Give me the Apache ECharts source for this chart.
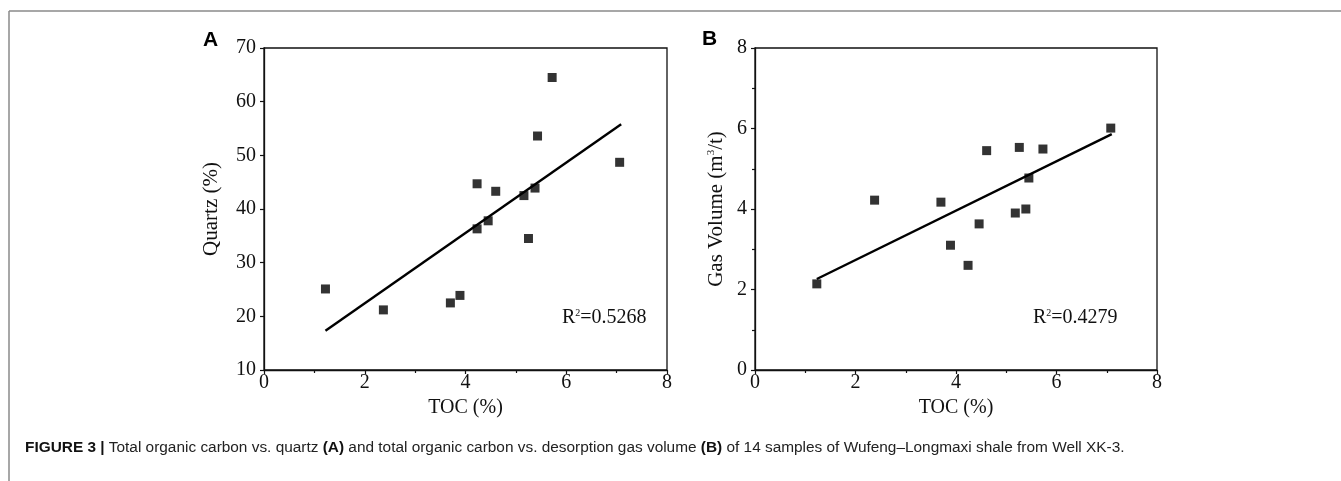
<!DOCTYPE html>
<html>
<head>
<meta charset="utf-8">
<script src="https://cdn.jsdelivr.net/npm/echarts@6/dist/echarts.min.js"></script>
<style>
  html, body { margin: 0; padding: 0; background: #fff; }
  #main { width: 1341px; height: 481px; }
</style>
</head>
<body>
<div id="main"></div>
<script>
// panel A: TOC vs quartz
var tocA = [1.22, 2.37, 3.70, 3.89, 4.23, 4.23, 4.45, 4.60, 5.16, 5.38, 5.25, 5.43, 5.72, 7.06];
var quartz = [25.1, 21.2, 22.5, 23.9, 44.7, 36.3, 37.8, 43.3, 42.5, 43.9, 34.5, 53.6, 64.5, 48.7];
// panel B: TOC vs gas volume
var tocB = [1.23, 2.38, 3.70, 3.89, 4.24, 4.46, 4.61, 5.18, 5.26, 5.39, 5.45, 5.73, 7.08];
var gasVolume = [2.14, 4.22, 4.17, 3.10, 2.60, 3.63, 5.45, 3.90, 5.53, 4.00, 4.77, 5.49, 6.01];
// fitted lines (ends)
var fitA = [[1.22, 17.3], [7.09, 55.8]];
var fitB = [[1.23, 2.26], [7.10, 5.86]];
var xTicks = [0, 2, 4, 6, 8];

var serif = '"Liberation Serif", "Times New Roman", serif';
var sans = '"Liberation Sans", Arial, sans-serif';

function pairs(xs, ys) {
  return xs.map(function (x, i) { return [x, ys[i]]; });
}

function xAxisOf(idx) {
  return {
    type: 'value', gridIndex: idx, min: xTicks[0], max: xTicks[xTicks.length - 1], interval: 2,
    name: 'TOC (%)', nameLocation: 'middle', nameGap: 25,
    nameTextStyle: { fontFamily: serif, fontSize: 20, color: '#111' },
    axisLine: { lineStyle: { color: '#111', width: 1.3 } },
    axisTick: { inside: false, length: 4, lineStyle: { color: '#111', width: 1.2 } },
    minorTick: { show: true, splitNumber: 2, length: 3, lineStyle: { color: '#111', width: 1.2 } },
    axisLabel: { fontFamily: serif, fontSize: 20, color: '#111', margin: 3 },
    splitLine: { show: false }
  };
}

var chart = echarts.init(document.getElementById('main'));

var option = {
  animation: false,
  backgroundColor: '#fff',
  grid: [
    { left: 264, top: 48, width: 403, height: 322, show: true, borderColor: '#111', borderWidth: 1.3, backgroundColor: 'transparent' },
    { left: 755, top: 48, width: 402, height: 322, show: true, borderColor: '#111', borderWidth: 1.3, backgroundColor: 'transparent' }
  ],
  xAxis: [xAxisOf(0), xAxisOf(1)],
  yAxis: [
    {
      type: 'value', gridIndex: 0, min: 10, max: 70, interval: 10,
      name: 'Quartz (%)', nameLocation: 'middle', nameGap: 42,
      nameTextStyle: { fontFamily: serif, fontSize: 21, color: '#111' },
      axisLine: { show: true, lineStyle: { color: '#111', width: 1.3 } },
      axisTick: { show: true, length: 4, lineStyle: { color: '#111', width: 1.2 } },
      axisLabel: { fontFamily: serif, fontSize: 20, color: '#111', margin: 8 },
      splitLine: { show: false }
    },
    {
      type: 'value', gridIndex: 1, min: 0, max: 8, interval: 2,
      name: 'Gas Volume (m{sup|3}/t)', nameLocation: 'middle', nameGap: 28,
      nameTextStyle: {
        fontFamily: serif, fontSize: 21, color: '#111',
        rich: { sup: { fontFamily: serif, fontSize: 11, color: '#111', verticalAlign: 'top', padding: [0, 0, 10, 0] } }
      },
      axisLine: { show: true, lineStyle: { color: '#111', width: 1.3 } },
      axisTick: { show: true, length: 4, lineStyle: { color: '#111', width: 1.2 } },
      minorTick: { show: true, splitNumber: 2, length: 3, lineStyle: { color: '#111', width: 1.2 } },
      axisLabel: { fontFamily: serif, fontSize: 20, color: '#111', margin: 8 },
      splitLine: { show: false }
    }
  ],
  series: [
    {
      type: 'line', xAxisIndex: 0, yAxisIndex: 0, data: fitA, showSymbol: false, silent: true,
      lineStyle: { color: '#000', width: 2.4 }, z: 2
    },
    {
      type: 'scatter', xAxisIndex: 0, yAxisIndex: 0, data: pairs(tocA, quartz),
      symbol: 'rect', symbolSize: 9, itemStyle: { color: '#000' }, z: 3
    },
    {
      type: 'line', xAxisIndex: 1, yAxisIndex: 1, data: fitB, showSymbol: false, silent: true,
      lineStyle: { color: '#000', width: 2.4 }, z: 2
    },
    {
      type: 'scatter', xAxisIndex: 1, yAxisIndex: 1, data: pairs(tocB, gasVolume),
      symbol: 'rect', symbolSize: 9, itemStyle: { color: '#000' }, z: 3
    }
  ],
  graphic: [
    // page frame
    { type: 'line', shape: { x1: 9, y1: 11, x2: 1341, y2: 11 }, style: { stroke: '#8a8a8a', lineWidth: 1.5 } },
    { type: 'line', shape: { x1: 9, y1: 11, x2: 9, y2: 481 }, style: { stroke: '#8a8a8a', lineWidth: 1.5 } },
    // panel letters
    { type: 'text', left: 203, top: 30, style: { text: 'A', font: 'bold 21px ' + sans, fill: '#000' } },
    { type: 'text', left: 702, top: 29, style: { text: 'B', font: 'bold 21px ' + sans, fill: '#000' } },
    // R squared
    {
      type: 'text', left: 562, top: 308,
      style: {
        text: 'R{sup|2}=0.5268', font: '20px ' + serif, fill: '#111',
        rich: { sup: { fontFamily: serif, fontSize: 10, fill: '#111', verticalAlign: 'top', padding: [0, 0, 10, 0] } }
      }
    },
    {
      type: 'text', left: 1033, top: 308,
      style: {
        text: 'R{sup|2}=0.4279', font: '20px ' + serif, fill: '#111',
        rich: { sup: { fontFamily: serif, fontSize: 10, fill: '#111', verticalAlign: 'top', padding: [0, 0, 10, 0] } }
      }
    },
    // caption
    {
      type: 'text', left: 25, top: 440,
      style: {
        text: '{b|FIGURE 3 |} Total organic carbon vs. quartz {b|(A)} and total organic carbon vs. desorption gas volume {b|(B)} of 14 samples of Wufeng\u2013Longmaxi shale from Well XK-3.',
        font: '15.4px ' + sans, fill: '#222',
        rich: { b: { fontFamily: sans, fontSize: 15.4, fontWeight: 'bold', fill: '#111' } }
      }
    }
  ]
};

chart.setOption(option);
</script>
</body>
</html>
